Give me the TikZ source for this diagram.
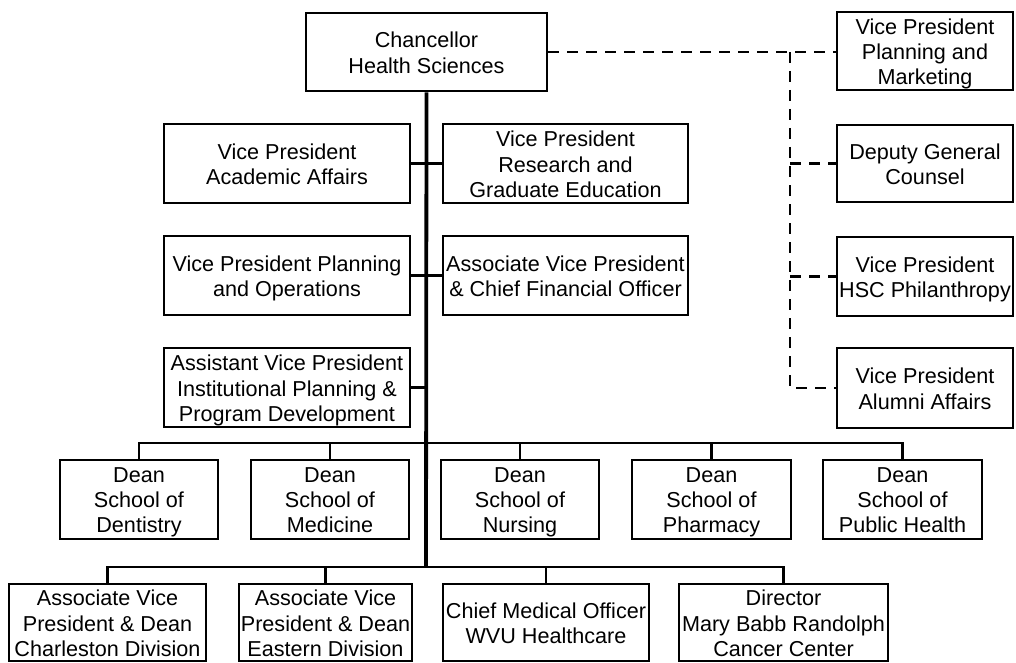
\documentclass[tikz,border=0pt]{standalone}
\usepackage{fontspec}
\setmainfont{Liberation Sans}
\begin{document}
\begin{tikzpicture}[x=1pt,y=-1pt,
  box/.style={draw=black,line width=2.6pt,fill=white,inner sep=0pt,rectangle},
  txt/.style={inner sep=0pt,align=center,font=\fontsize{21.6}{25.3}\selectfont,
    yshift=-4.5pt,
    execute at begin node=\strut, execute at end node=\strut},
  conn/.style={line width=2.4pt},
  trunk/.style={line width=3.8pt},
  dsh/.style={line width=2.9pt,dash pattern=on 11pt off 8pt}]
\useasboundingbox (0,0) rectangle (1016,663);
\coordinate (tbot) at (426,567);
\coordinate (deanbar) at (426,443);
\coordinate (botbar) at (426,567);
\coordinate (dtop) at (790,52);
\coordinate (dbot) at (790,388);
% boxes
\node[box,minimum width=241,minimum height=78] (chan) at (426.5,52) {};
\node[box,minimum width=176,minimum height=78] (vppm) at (925,51) {};
\node[box,minimum width=176,minimum height=77] (dgc) at (925,163.5) {};
\node[box,minimum width=176,minimum height=79] (hsc) at (925,276.5) {};
\node[box,minimum width=176,minimum height=80] (alum) at (925,388) {};
\node[box,minimum width=246,minimum height=79] (vpaa) at (287,163.5) {};
\node[box,minimum width=245,minimum height=79] (vprge) at (565.5,163.5) {};
\node[box,minimum width=246,minimum height=79] (vppo) at (287,275.5) {};
\node[box,minimum width=245,minimum height=79] (cfo) at (565.5,275.5) {};
\node[box,minimum width=246,minimum height=79] (avpip) at (287,387.5) {};
\node[box,minimum width=158,minimum height=79] (dent) at (139,499.5) {};
\node[box,minimum width=158,minimum height=79] (med) at (330,499.5) {};
\node[box,minimum width=158,minimum height=79] (nurs) at (520,499.5) {};
\node[box,minimum width=159,minimum height=79] (phar) at (711.5,499.5) {};
\node[box,minimum width=159,minimum height=79] (ph) at (902.5,499.5) {};
\node[box,minimum width=197,minimum height=77] (chas) at (107.5,622.5) {};
\node[box,minimum width=173,minimum height=77] (east) at (325.5,622.5) {};
\node[box,minimum width=206,minimum height=77] (cmo) at (546,622.5) {};
\node[box,minimum width=209,minimum height=77] (dir) at (783.5,622.5) {};
% solid connectors
\draw[trunk] (chan.south) -- (tbot);
\draw[conn] (vpaa.east) -- (vprge.west);
\draw[conn] (vppo.east) -- (cfo.west);
\draw[conn] (avpip.east) -- (avpip.east -| chan.south);
\draw[conn] (dent.north) -- (dent.north |- deanbar) -- (ph.north |- deanbar) -- (ph.north);
\draw[conn] (med.north) -- (med.north |- deanbar);
\draw[conn] (nurs.north) -- (nurs.north |- deanbar);
\draw[conn] (phar.north) -- (phar.north |- deanbar);
\draw[conn] (chas.north) -- (chas.north |- botbar) -- (dir.north |- botbar) -- (dir.north);
\draw[conn] (east.north) -- (east.north |- botbar);
\draw[conn] (cmo.north) -- (cmo.north |- botbar);
% dashed connectors
\draw[dsh] (chan.east |- dtop) -- (vppm.west |- dtop);
\draw[dsh] (dtop) -- (dbot) -- (alum.west |- dbot);
\draw[dsh] (dtop |- dgc.west) -- (dgc.west);
\draw[dsh] (dtop |- hsc.west) -- (hsc.west);
% texts
\node[txt] (chan-t) at (chan.center) {Chancellor\\Health Sciences};
\node[txt] (vppm-t) at (vppm.center) {Vice President\\Planning and\\Marketing};
\node[txt] (dgc-t) at (dgc.center) {Deputy General\\Counsel};
\node[txt] (hsc-t) at (hsc.center) {Vice President\\HSC Philanthropy};
\node[txt] (alum-t) at (alum.center) {Vice President\\Alumni Affairs};
\node[txt] (vpaa-t) at (vpaa.center) {Vice President\\Academic Affairs};
\node[txt] (vprge-t) at (vprge.center) {Vice President\\Research and\\Graduate Education};
\node[txt] (vppo-t) at (vppo.center) {Vice President Planning\\and Operations};
\node[txt] (cfo-t) at (cfo.center) {Associate Vice President\\\& Chief Financial Officer};
\node[txt] (avpip-t) at (avpip.center) {Assistant Vice President\\Institutional Planning \&\\Program Development};
\node[txt] (dent-t) at (dent.center) {Dean\\School of\\Dentistry};
\node[txt] (med-t) at (med.center) {Dean\\School of\\Medicine};
\node[txt] (nurs-t) at (nurs.center) {Dean\\School of\\Nursing};
\node[txt] (phar-t) at (phar.center) {Dean\\School of\\Pharmacy};
\node[txt] (ph-t) at (ph.center) {Dean\\School of\\Public Health};
\node[txt] (chas-t) at (chas.center) {Associate Vice\\President \& Dean\\Charleston Division};
\node[txt] (east-t) at (east.center) {Associate Vice\\President \& Dean\\Eastern Division};
\node[txt] (cmo-t) at (cmo.center) {Chief Medical Officer\\WVU Healthcare};
\node[txt] (dir-t) at (dir.center) {Director\\Mary Babb Randolph\\Cancer Center};
\end{tikzpicture}
\end{document}
